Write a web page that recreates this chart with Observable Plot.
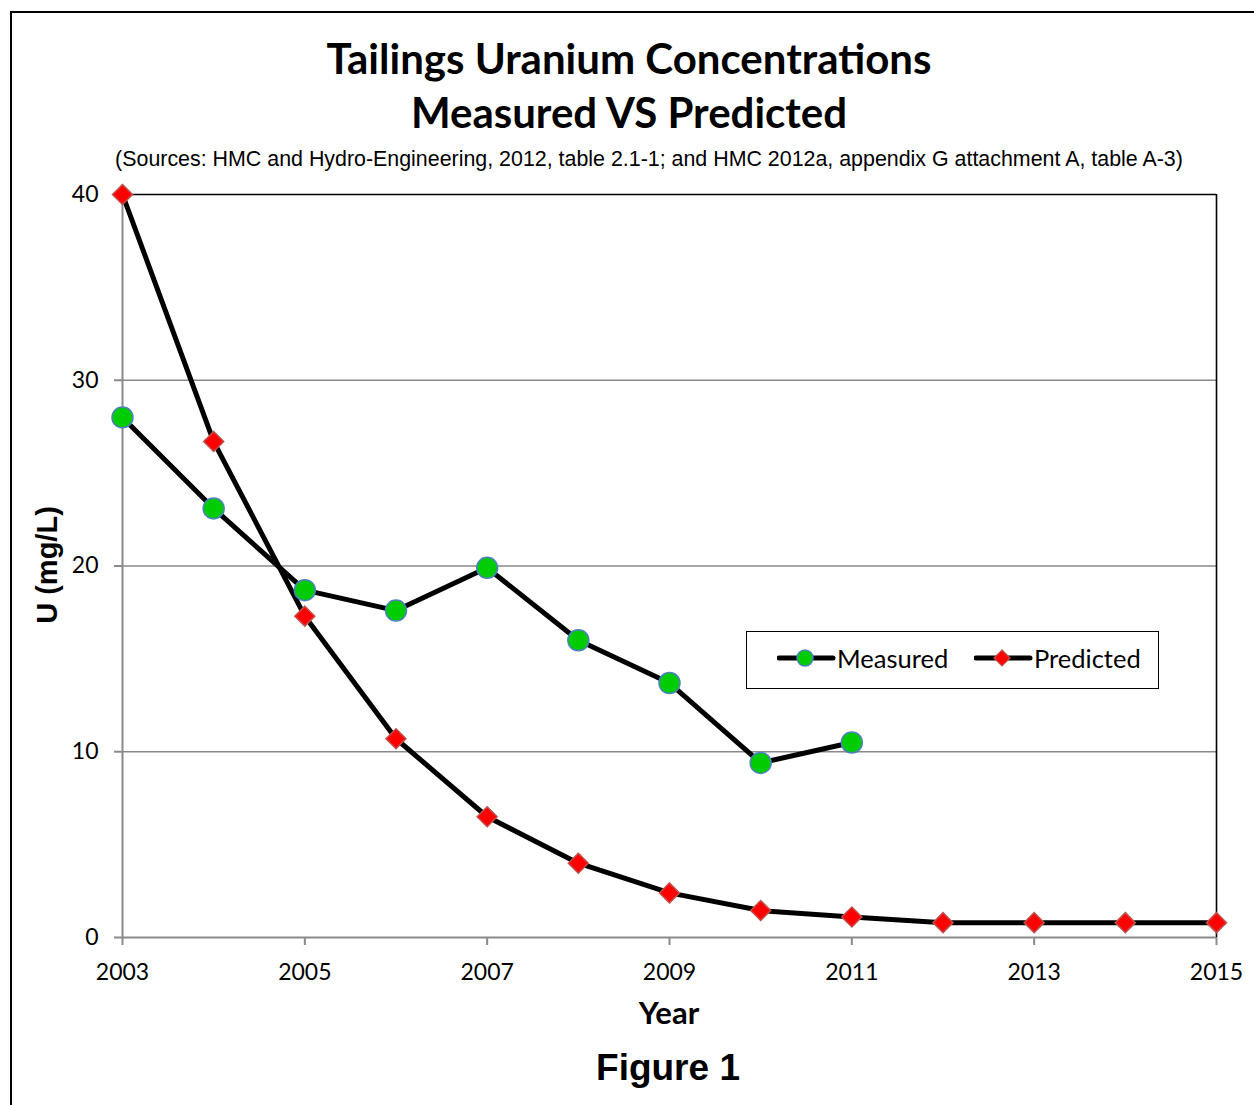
<!DOCTYPE html>
<html>
<head>
<meta charset="utf-8">
<script src="https://cdn.jsdelivr.net/npm/d3@7"></script>
<script src="https://cdn.jsdelivr.net/npm/@observablehq/plot@0.6"></script>
<style>
  html, body { margin: 0; padding: 0; background: #fff; }
  #page { position: relative; width: 1254px; height: 1105px; overflow: hidden; background: #fff; }
  #border { position: absolute; left: 10px; top: 11px; width: 1300px; height: 1200px; border-left: 2px solid #000; border-top: 2px solid #000; }
  .t { position: absolute; white-space: nowrap; color: #000; }
  #title { left: 0; width: 1258px; text-align: center; font-family: Lato, sans-serif; font-weight: 700; font-size: 42px; line-height: 54px; top: 31px; }
  #sub { left: 0; width: 1298px; text-align: center; font-family: "Liberation Sans", Arial, sans-serif; font-size: 21.4px; top: 147px; }
  #chart { position: absolute; left: 0; top: 184px; }
  #ylab { font-family: "Liberation Sans", Arial, sans-serif; font-weight: 700; font-size: 29px; left: 47px; top: 565px; transform: translate(-50%, -50%) rotate(-90deg); }
  #xlab { font-family: Lato, sans-serif; font-weight: 700; font-size: 31px; left: 669px; top: 1012px; transform: translate(-50%, -50%); }
  #fig { font-family: "Liberation Sans", Arial, sans-serif; font-weight: 700; font-size: 37px; left: 668px; top: 1068px; transform: translate(-50%, -50%); }
  #legend { position: absolute; left: 746px; top: 631px; width: 411px; height: 56px; border: 1.5px solid #000; background: #fff; }
  #legend .item { position: absolute; top: -2px; height: 56px; display: flex; align-items: center; font-family: Lato, sans-serif; font-size: 25.5px; }
  #legend svg { display: block; }
</style>
</head>
<body>
<div id="page">
  <div id="border"></div>
  <div id="title" class="t">Tailings Uranium Concentrations<br>Measured VS Predicted</div>
  <div id="sub" class="t">(Sources: HMC and Hydro-Engineering, 2012, table 2.1-1; and HMC 2012a, appendix G attachment A, table A-3)</div>
  <div id="chart"></div>
  <div id="ylab" class="t">U (mg/L)</div>
  <div id="xlab" class="t">Year</div>
  <div id="fig" class="t">Figure 1</div>
  <div id="legend"></div>
</div>
<script>
// ---- data ----
const measuredYears = [2003, 2004, 2005, 2006, 2007, 2008, 2009, 2010, 2011];
const measuredValues = [28.0, 23.1, 18.7, 17.6, 19.9, 16.0, 13.7, 9.4, 10.5];
const predictedYears = [2003, 2004, 2005, 2006, 2007, 2008, 2009, 2010, 2011, 2012, 2013, 2014, 2015];
const predictedValues = [40.0, 26.7, 17.3, 10.7, 6.5, 4.0, 2.4, 1.45, 1.1, 0.8, 0.8, 0.8, 0.8];
const xTicks = [2003, 2005, 2007, 2009, 2011, 2013, 2015];
const yTicks = [0, 10, 20, 30, 40];
const gridValues = [10, 20, 30];
const seriesNames = ["Measured", "Predicted"];

const measured = measuredYears.map((x, i) => ({x, y: measuredValues[i]}));
const predicted = predictedYears.map((x, i) => ({x, y: predictedValues[i]}));

const grayAxis = "#8a8a8a";
const greenFill = "#00cc00", greenStroke = "#4f81bd";
const redFill = "#ff0000", redStroke = "#c0504d";

const chart = Plot.plot({
  width: 1254,
  height: 743 + 10 + 160,
  marginTop: 10,
  marginBottom: 160,
  marginLeft: 122,
  marginRight: 38,
  style: {fontFamily: "Lato, sans-serif", fontSize: "23px", background: "transparent", overflow: "visible"},
  x: {domain: [2003, 2015]},
  y: {domain: [0, 40]},
  marks: [
    Plot.ruleY(gridValues, {stroke: grayAxis, strokeWidth: 1.3}),
    Plot.ruleY([40], {stroke: "#000", strokeWidth: 1.6}),
    Plot.ruleX([2015], {stroke: "#000", strokeWidth: 1.6}),
    Plot.ruleX([2003], {stroke: grayAxis, strokeWidth: 2}),
    Plot.ruleY([0], {stroke: grayAxis, strokeWidth: 2}),
    Plot.axisY({ticks: yTicks, tickSize: 8, tickPadding: 16, stroke: grayAxis, strokeWidth: 2, fill: "#000", fontSize: 23, label: null, tickFormat: d => String(d)}),
    Plot.axisX({ticks: xTicks, tickSize: 8, tickPadding: 18, stroke: grayAxis, strokeWidth: 2, fill: "#000", fontSize: 23, label: null, tickFormat: d => String(d)}),
    Plot.line(measured, {x: "x", y: "y", stroke: "#000", strokeWidth: 5}),
    Plot.line(predicted, {x: "x", y: "y", stroke: "#000", strokeWidth: 5}),
    Plot.dot(measured, {x: "x", y: "y", r: 10.5, fill: greenFill, stroke: greenStroke, strokeWidth: 1.5}),
    Plot.dot(predicted, {x: "x", y: "y", symbol: "diamond2", r: 9, fill: redFill, stroke: redStroke, strokeWidth: 1.5})
  ]
});
document.getElementById("chart").appendChild(chart);

// ---- legend ----
const legend = document.getElementById("legend");
const items = [
  {name: seriesNames[0], left: 30, shape: "circle"},
  {name: seriesNames[1], left: 227, shape: "diamond"}
];
for (const it of items) {
  const div = document.createElement("div");
  div.className = "item";
  div.style.left = it.left + "px";
  const svg = d3.create("svg").attr("width", 60).attr("height", 24);
  svg.append("line").attr("x1", 2).attr("x2", 56).attr("y1", 12).attr("y2", 12)
    .attr("stroke", "#000").attr("stroke-width", 5).attr("stroke-linecap", "round");
  if (it.shape === "circle") {
    svg.append("circle").attr("cx", 28).attr("cy", 12).attr("r", 8)
      .attr("fill", greenFill).attr("stroke", greenStroke).attr("stroke-width", 1.5);
  } else {
    svg.append("path").attr("d", "M28,4L36,12L28,20L20,12Z")
      .attr("fill", redFill).attr("stroke", redStroke).attr("stroke-width", 1.2);
  }
  div.appendChild(svg.node());
  const span = document.createElement("span");
  span.textContent = it.name;
  div.appendChild(span);
  legend.appendChild(div);
}
</script>
</body>
</html>
